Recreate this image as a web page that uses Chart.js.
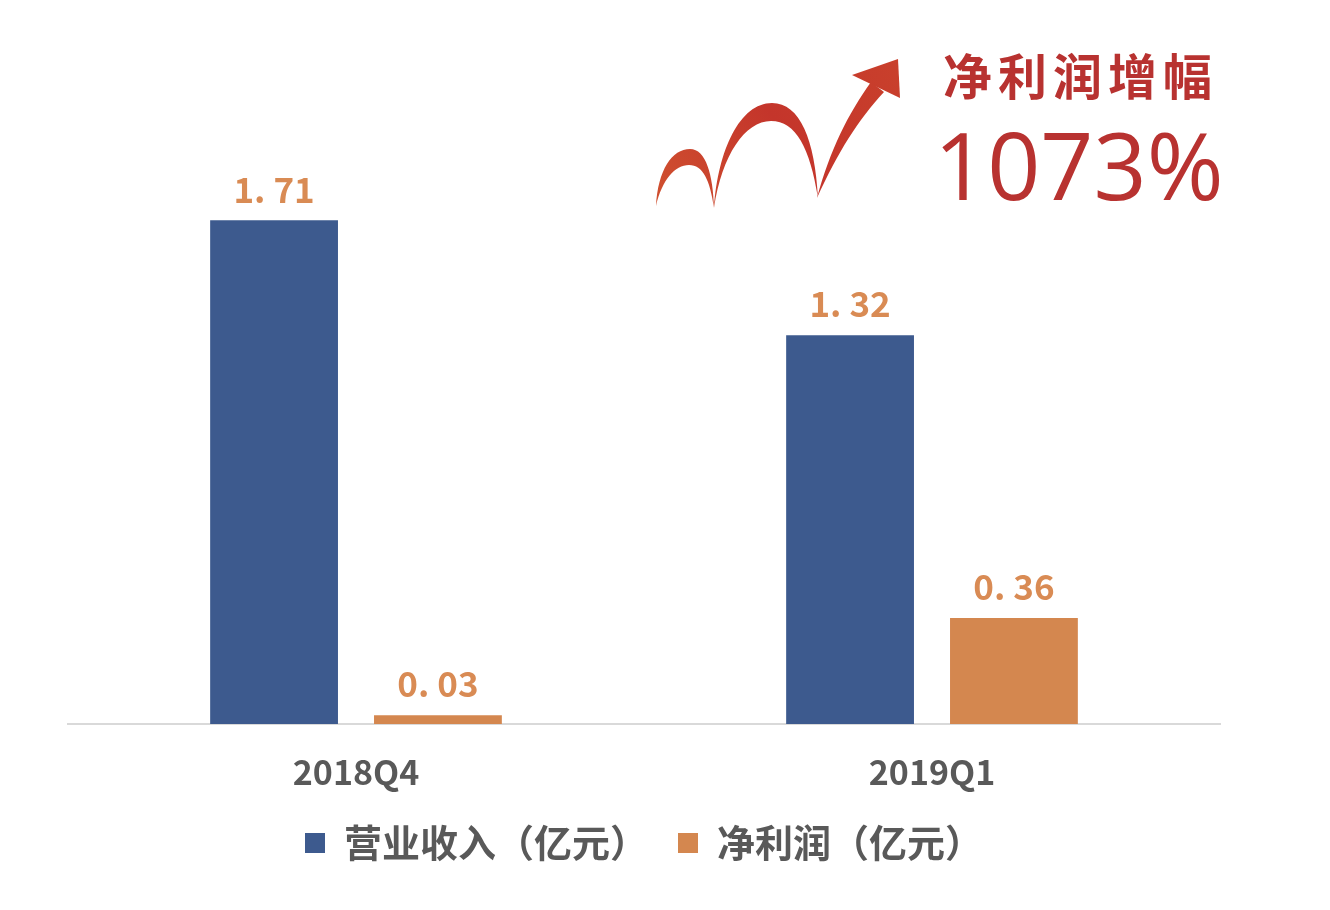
<!DOCTYPE html>
<html>
<head>
<meta charset="utf-8">
<script src="https://cdn.jsdelivr.net/npm/chart.js@4/dist/chart.umd.min.js"></script>
<style>
  body { margin: 0; background: #fff; }
  #wrap { width: 1330px; height: 910px; position: relative; }
</style>
</head>
<body>
<div id="wrap"><canvas id="grafica"></canvas></div>
<script>
const categories = ['2018Q4', '2019Q1'];
const seriesNames = ['营业收入（亿元）', '净利润（亿元）'];
const revenue = [1.71, 1.32];
const netProfit = [0.03, 0.36];
const headline = '净利润增幅';
const growth = '1073%';

const blue = '#3d5a8e';
const orange = '#d4874f';

// value labels above each bar
const barLabels = {
  id: 'barLabels',
  afterDatasetsDraw(chart) {
    const { ctx } = chart;
    ctx.save();
    ctx.font = 'bold 35px "Noto Sans CJK SC", sans-serif';
    ctx.fillStyle = '#d98b54';
    ctx.textAlign = 'center';
    ctx.textBaseline = 'middle';
    chart.data.datasets.forEach((ds, i) => {
      chart.getDatasetMeta(i).data.forEach((bar, j) => {
        const txt = ds.data[j].toFixed(2).replace('.', '. ');
        ctx.fillText(txt, bar.x, bar.y - 31);
      });
    });
    ctx.restore();
  },
};

// red swoosh arrow + growth headline
const headlineDeco = {
  id: 'headlineDeco',
  afterDraw(chart) {
    const { ctx } = chart;
    ctx.save();
    const g = ctx.createLinearGradient(660, 200, 900, 60);
    g.addColorStop(0, '#cf4f2f');
    g.addColorStop(0.5, '#c4352b');
    g.addColorStop(1, '#c9402c');
    ctx.fillStyle = g;

    // small hump
    ctx.beginPath();
    ctx.moveTo(656, 206);
    ctx.bezierCurveTo(658, 170, 672, 149, 690, 149);
    ctx.bezierCurveTo(706, 149, 713, 175, 714, 208);
    ctx.bezierCurveTo(710, 180, 703, 165, 689, 165);
    ctx.bezierCurveTo(675, 165, 662, 180, 656, 206);
    ctx.closePath();
    ctx.fill();

    // big hump
    ctx.beginPath();
    ctx.moveTo(714, 208);
    ctx.bezierCurveTo(718, 150, 740, 103, 772, 103);
    ctx.bezierCurveTo(800, 103, 815, 140, 818, 198);
    ctx.bezierCurveTo(810, 148, 796, 121, 771, 121);
    ctx.bezierCurveTo(745, 121, 722, 155, 714, 208);
    ctx.closePath();
    ctx.fill();

    // rising stroke
    ctx.beginPath();
    ctx.moveTo(817, 198);
    ctx.bezierCurveTo(830, 150, 848, 114, 871, 82);
    ctx.lineTo(884, 92);
    ctx.bezierCurveTo(858, 120, 838, 152, 817, 198);
    ctx.closePath();
    ctx.fill();

    // head
    ctx.beginPath();
    ctx.moveTo(898, 59);
    ctx.lineTo(852, 75);
    ctx.lineTo(900, 98);
    ctx.closePath();
    ctx.fill();

    ctx.fillStyle = '#b83230';
    ctx.textAlign = 'left';
    ctx.textBaseline = 'alphabetic';
    ctx.font = 'bold 49px "Noto Sans CJK SC", sans-serif';
    ctx.letterSpacing = '6px';
    ctx.fillText(headline, 943, 95);
    ctx.letterSpacing = '0px';
    ctx.font = '93px "Open Sans", sans-serif';
    ctx.fillText(growth, 934, 200);
    ctx.restore();
  },
};

const $grafica = document.querySelector('#grafica');

// eslint-disable-next-line no-new, no-undef
new Chart($grafica, {
  type: 'bar',
  data: {
    labels: categories,
    datasets: [
      {
        label: seriesNames[0],
        data: revenue,
        backgroundColor: blue,
        categoryPercentage: 0.569,
        barPercentage: 0.78,
      },
      {
        label: seriesNames[1],
        data: netProfit,
        backgroundColor: orange,
        categoryPercentage: 0.569,
        barPercentage: 0.78,
      },
    ],
  },
  options: {
    responsive: true,
    maintainAspectRatio: false,
    devicePixelRatio: 1,
    animation: false,
    layout: { padding: { left: 68, right: 110, top: 17, bottom: 38 } },
    scales: {
      x: {
        grid: { display: false, drawTicks: false },
        border: { display: true, color: '#d9d9d9', width: 2 },
        ticks: {
          padding: 28,
          color: '#595959',
          font: { family: '"Noto Sans CJK SC", sans-serif', size: 34, weight: 'bold' },
        },
        afterFit(axis) {
          axis.height = 70; // leave room under the labels, not the double padding
        },
      },
      y: {
        display: false,
        min: 0,
        max: 2.4,
      },
    },
    plugins: {
      legend: {
        position: 'bottom',
        labels: {
          boxWidth: 20,
          boxHeight: 20,
          padding: 30,
          color: '#595959',
          font: { family: '"Noto Sans CJK SC", sans-serif', size: 38, weight: 'bold' },
        },
      },
      tooltip: { enabled: false },
    },
  },
  plugins: [barLabels, headlineDeco],
});
</script>
</body>
</html>
